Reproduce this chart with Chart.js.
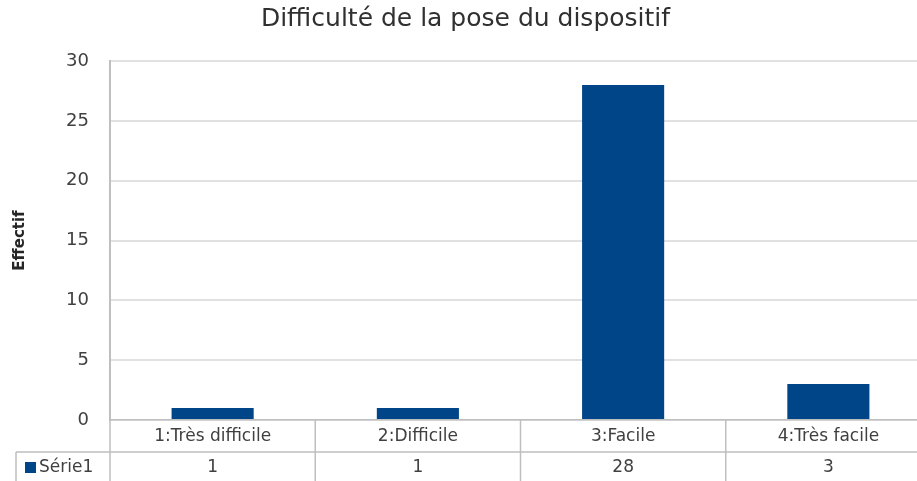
<!DOCTYPE html>
<html lang="fr">
<head>
<meta charset="utf-8">
<title>Difficulté de la pose du dispositif</title>
<script src="https://cdn.jsdelivr.net/npm/chart.js@4/dist/chart.umd.min.js"></script>
<style>
    html, body { margin: 0; padding: 0; background: #fff; }
    #wrap { width: 917px; height: 481px; overflow: hidden; }
    canvas { display: block; }
</style>
</head>
<body>
<div id="wrap"><canvas id="poseChart" width="940" height="481"></canvas></div>
<script>
// Données
const categories = ['1:Très difficile', '2:Difficile', '3:Facile', '4:Très facile'];
const effectifs = [1, 1, 28, 3];
const yTickValues = [0, 5, 10, 15, 20, 25, 30];
const seriesName = 'Série1';

const barColor = '#004587';
const textColor = '#404040';
const lineColor = '#bfbfbf';
const fontFamily = 'DejaVu Sans, sans-serif';

// Tableau de données sous l'axe (style Excel)
const dataTable = {
    id: 'dataTable',
    afterDraw(chart) {
        const ctx = chart.ctx;
        const area = chart.chartArea;
        const x = chart.scales.x;
        const top = area.bottom;
        const mid = top + 32;
        const bottom = chart.height;
        const half = (x.getPixelForValue(1) - x.getPixelForValue(0)) / 2;

        ctx.save();
        ctx.strokeStyle = lineColor;
        ctx.lineWidth = 1.5;
        ctx.beginPath();
        ctx.moveTo(16, mid);
        ctx.lineTo(area.right, mid);
        ctx.moveTo(16, mid);
        ctx.lineTo(16, bottom);
        categories.forEach(function(c, i) {
            const xl = x.getPixelForValue(i) - half;
            ctx.moveTo(xl, top);
            ctx.lineTo(xl, bottom);
        });
        ctx.moveTo(area.right, top);
        ctx.lineTo(area.right, bottom);
        ctx.stroke();

        // clé de légende
        ctx.fillStyle = barColor;
        ctx.fillRect(25, mid + 10, 11, 11);

        ctx.fillStyle = textColor;
        ctx.font = '17px ' + fontFamily;
        ctx.textBaseline = 'middle';
        ctx.textAlign = 'left';
        ctx.fillText(chart.data.datasets[0].label, 39, mid + 16);

        ctx.textAlign = 'center';
        chart.data.datasets[0].data.forEach(function(v, i) {
            ctx.fillText(String(v), x.getPixelForValue(i), mid + 16);
        });
        ctx.restore();
    }
};

new Chart(document.getElementById('poseChart'), {
    type: 'bar',
    data: {
        labels: categories,
        datasets: [{
            label: seriesName,
            data: effectifs,
            backgroundColor: barColor,
            borderWidth: 0,
            barPercentage: 0.4,
            categoryPercentage: 1.0
        }]
    },
    options: {
        responsive: false,
        animation: false,
        layout: { padding: { left: 0, right: 9, top: 0, bottom: 0 } },
        plugins: {
            legend: { display: false },
            tooltip: { enabled: false },
            title: {
                display: true,
                text: 'Difficulté de la pose du dispositif',
                color: '#303030',
                font: { family: fontFamily, size: 25, weight: 'normal' },
                padding: { top: 4, bottom: 27 }
            }
        },
        scales: {
            x: {
                grid: { display: false, drawTicks: false },
                border: { display: true, color: lineColor, width: 1.5 },
                ticks: {
                    color: textColor,
                    font: { family: fontFamily, size: 17 },
                    padding: 6,
                    maxRotation: 0,
                    autoSkip: false
                },
                afterFit: function(scale) { scale.height = 61; }
            },
            y: {
                min: 0,
                max: 30,
                afterBuildTicks: function(scale) {
                    scale.ticks = yTickValues.map(function(v) { return { value: v }; });
                },
                grid: { color: '#e1e1e1', lineWidth: 2, drawTicks: false },
                border: { display: true, color: lineColor, width: 2 },
                ticks: {
                    color: textColor,
                    font: { family: fontFamily, size: 18 },
                    padding: 21
                },
                title: {
                    display: true,
                    text: 'Effectif',
                    color: '#262626',
                    font: { family: fontFamily, size: 15, weight: 'bold' },
                    padding: { top: 11, bottom: 0 }
                },
                afterFit: function(scale) { scale.width = 110; }
            }
        }
    },
    plugins: [dataTable]
});
</script>
</body>
</html>
